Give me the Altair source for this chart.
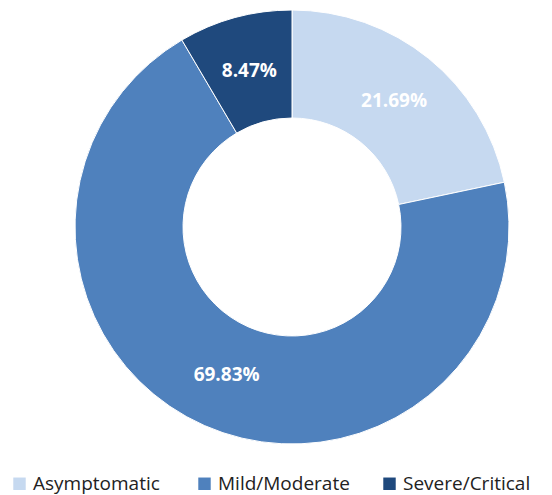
import altair as alt
import pandas as pd

categories = ["Asymptomatic", "Mild/Moderate", "Severe/Critical"]
values = [21.69, 69.83, 8.47]
labels = ["21.69%", "69.83%", "8.47%"]
colors = ["#C6D9F0", "#4F81BD", "#1F497D"]

df = pd.DataFrame({"category": categories, "value": values, "label": labels,
                   "order": [0, 1, 2]})

cx, cy = 284, 214

base = alt.Chart(df).encode(
    theta=alt.Theta("value:Q", stack=True),
    order=alt.Order("order:Q"),
)

arcs = base.mark_arc(innerRadius=109, outerRadius=217, stroke="white", strokeWidth=1).encode(
    x=alt.value(cx), y=alt.value(cy),
    color=alt.Color("category:N", scale=alt.Scale(domain=categories, range=colors),
                    legend=alt.Legend(title=None, orient="none", legendX=2, legendY=461,
                                      direction="horizontal", columns=3, gridAlign="all",
                                      labelFontSize=19, labelFont="Open Sans",
                                      labelColor="#222222", symbolType="square",
                                      symbolSize=155, symbolStrokeWidth=0,
                                      columnPadding=30, labelOffset=4)),
)

text = base.mark_text(radius=162, font="Open Sans", fontSize=19, fontWeight="bold",
                      color="white").encode(
    x=alt.value(cx), y=alt.value(cy),
    text="label:N",
)

chart = (arcs + text).properties(width=536, height=486, padding=0).configure_view(stroke=None)

chart.save("out.html", embed_options={"renderer": "svg", "actions": False})
